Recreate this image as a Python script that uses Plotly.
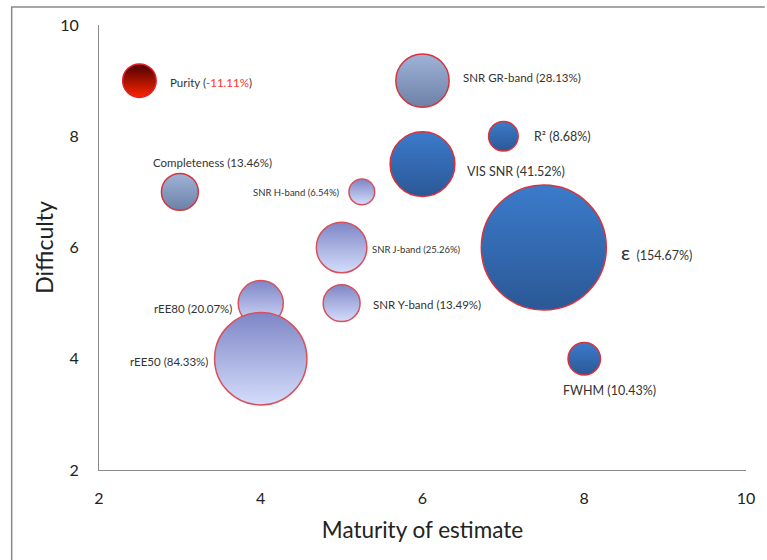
import plotly.graph_objects as go

# ---- data ----
names = ["Purity", "SNR GR-band", "R²", "VIS SNR", "Completeness", "SNR H-band",
         "SNR J-band", "ε", "rEE80", "SNR Y-band", "rEE50", "FWHM"]
maturity = [2.5, 6, 7, 6, 3, 5.25, 5, 7.5, 4, 5, 4, 8]
difficulty = [9, 9, 8, 7.5, 7, 7, 6, 6, 5, 5, 4, 4]
impact = [-11.11, 28.13, 8.68, 41.52, 13.46, 6.54, 25.26, 154.67, 20.07, 13.49, 84.33, 10.43]
groups = ["red", "grey", "blue", "blue", "grey", "lav", "lav", "blue", "lav", "lav", "lav", "blue"]
x_ticks = [2, 4, 6, 8, 10]
y_ticks = [2, 4, 6, 8, 10]

# ---- styles ----
top_col = {"red": "#4a0000", "grey": "#9fb3d8", "blue": "#3b7bcb", "lav": "#7e86c6"}
bot_col = {"red": "#ff2400", "grey": "#6d80a6", "blue": "#2b5896", "lav": "#d4ddfb"}
edge_col = {"red": "#e0202a", "grey": "#d8323c", "blue": "#d8323c", "lav": "#d8505a"}

# label placement: (xanchor, xshift, yshift, font size)
label_style = [
    ("left", 29, -2, 11.5),
    ("left", 38, 3, 11.5),
    ("left", 29, 0, 12.5),
    ("left", 42, -7, 12.5),
    ("center", 33, 29, 11.5),
    ("right", -20, -1, 9.5),
    ("left", 28, -2, 9.5),
    ("left", 75, -4, 12.5),
    ("right", -27, -5, 11.5),
    ("left", 29, -1, 11.5),
    ("right", -51, -3, 11.5),
    ("center", 25, -32, 12.5),
]

sizes = [abs(v) for v in impact]
max_diam = 125
sizeref = 2.0 * max(sizes) / (max_diam ** 2)

fig = go.Figure()
fig.add_trace(go.Scatter(
    x=maturity, y=difficulty, mode="markers",
    marker=dict(
        size=sizes, sizemode="area", sizeref=sizeref,
        color=[top_col[g] for g in groups],
        gradient=dict(type="vertical", color=[bot_col[g] for g in groups]),
        line=dict(color=[edge_col[g] for g in groups], width=1.5),
        opacity=1,
    ),
    hoverinfo="skip", showlegend=False,
))

annotations = []
for n, xv, yv, v, st in zip(names, maturity, difficulty, impact, label_style):
    anchor, xs, ys, fs = st
    if v < 0:
        txt = f"{n} (<span style='color:#ff3030'>{v:.2f}%</span>)"
    elif n == "ε":
        txt = f"<span style='font-size:20px'>{n}</span>  ({v:.2f}%)"
    else:
        txt = f"{n} ({v:.2f}%)"
    annotations.append(dict(
        x=xv, y=yv, xref="x", yref="y", text=txt, showarrow=False,
        xanchor=anchor, yanchor="middle", xshift=xs, yshift=ys,
        font=dict(family="Lato", size=fs, color="#333333"),
    ))

# outer chart frame (left and top edges visible)
W, H = 767, 560
ml, mr, mt, mb = 99, 16, 25, 90
pw, ph = W - ml - mr, H - mt - mb
def px(xp): return (xp - ml) / pw
def py(yp): return 1 - (yp - mt) / ph
frame = dict(type="path", xref="paper", yref="paper",
             path=f"M {px(11)},{py(562)} L {px(11)},{py(7)} L {px(770)},{py(7)}",
             line=dict(color="#8a8a8a", width=1.5))

fig.update_layout(
    width=W, height=H,
    margin=dict(l=ml, r=mr, t=mt, b=mb),
    paper_bgcolor="white", plot_bgcolor="white",
    font=dict(family="Lato", color="#222222"),
    annotations=annotations,
    shapes=[frame],
    xaxis=dict(
        range=[2, 10], tickvals=x_ticks, showgrid=False, zeroline=False,
        showline=True, linecolor="#8a8a8a", linewidth=1,
        ticks="", tickfont=dict(size=16, color="#222222"), ticklabelstandoff=14,
        title=dict(text="Maturity of estimate", font=dict(size=22.5, color="#222222"), standoff=16),
    ),
    yaxis=dict(
        range=[2, 10], tickvals=y_ticks, showgrid=False, zeroline=False,
        showline=True, linecolor="#8a8a8a", linewidth=1,
        ticks="", tickfont=dict(size=16, color="#222222"), ticklabelstandoff=16,
        title=dict(text="Difficulty", font=dict(size=23, color="#222222"), standoff=0),
    ),
)

fig.write_html("out.html", config={"displayModeBar": False},
               post_script="document.body.style.margin='0px';")
